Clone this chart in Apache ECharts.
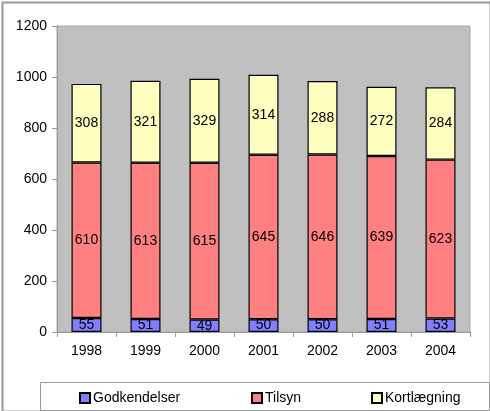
<!DOCTYPE html>
<html>
<head>
<meta charset="utf-8">
<script src="https://cdn.jsdelivr.net/npm/echarts@6/dist/echarts.min.js"></script>
<style>
  html, body { margin: 0; padding: 0; background: #fff; }
  #chart { width: 490px; height: 411px; }
</style>
</head>
<body>
<div id="chart"></div>
<script>
// data
const years = ['1998', '1999', '2000', '2001', '2002', '2003', '2004'];
const godkendelser = [55, 51, 49, 50, 50, 51, 53];
const tilsyn = [610, 613, 615, 645, 646, 639, 623];
const kortlaegning = [308, 321, 329, 314, 288, 272, 284];
const yTicks = { min: 0, max: 1200, step: 200 };

const font = 'Liberation Sans, Arial, sans-serif';

function barSeries(name, values, color) {
  return {
    name: name,
    type: 'bar',
    stack: 'total',
    barWidth: 30,
    data: values,
    itemStyle: { color: color, borderColor: '#000', borderWidth: 1.2 },
    label: { show: true, position: 'inside', color: '#000', fontSize: 14, fontFamily: font }
  };
}

function legendAt(name, left) {
  return {
    data: [name],
    left: left,
    top: 386,
    itemWidth: 10,
    itemHeight: 10,
    itemGap: 0,
    textStyle: { fontSize: 14, fontFamily: font, color: '#000', padding: [0, 0, 0, -2] },
    icon: 'rect'
  };
}

const chart = echarts.init(document.getElementById('chart'), null, { renderer: 'canvas' });
chart.setOption({
  animation: false,
  backgroundColor: '#fff',
  grid: {
    left: 57, right: 20, top: 26, bottom: 79,
    show: true, backgroundColor: '#c0c0c0', borderColor: '#a8a8a8', borderWidth: 1
  },
  legend: [
    legendAt('Godkendelser', 74),
    legendAt('Tilsyn', 246),
    legendAt('Kortlægning', 366)
  ],
  graphic: [{
    type: 'rect',
    left: 0, top: 0,
    shape: { x: 1, y: 1, width: 488, height: 409 },
    style: { fill: 'none', stroke: '#9a9a9a', lineWidth: 2 },
    z: -1
  }, {
    type: 'rect',
    left: 38, top: 380,
    shape: { width: 449, height: 28 },
    style: { fill: 'none', stroke: '#9a9a9a', lineWidth: 1 },
    z: -1
  }],
  xAxis: {
    type: 'category',
    data: years,
    axisLine: { lineStyle: { color: '#9a9a9a' } },
    axisTick: { show: true, length: 5, lineStyle: { color: '#9a9a9a' } },
    axisLabel: { color: '#000', fontSize: 14, fontFamily: font, margin: 12 }
  },
  yAxis: {
    type: 'value',
    min: yTicks.min, max: yTicks.max, interval: yTicks.step,
    axisLine: { show: true, lineStyle: { color: '#9a9a9a' } },
    axisTick: { show: true, length: 5, lineStyle: { color: '#9a9a9a' } },
    splitLine: { show: false },
    axisLabel: { color: '#000', fontSize: 14, fontFamily: font, margin: 10, formatter: v => String(v) }
  },
  series: [
    barSeries('Godkendelser', godkendelser, '#8080ff'),
    barSeries('Tilsyn', tilsyn, '#ff8080'),
    barSeries('Kortlægning', kortlaegning, '#ffffc0')
  ]
});
</script>
</body>
</html>
